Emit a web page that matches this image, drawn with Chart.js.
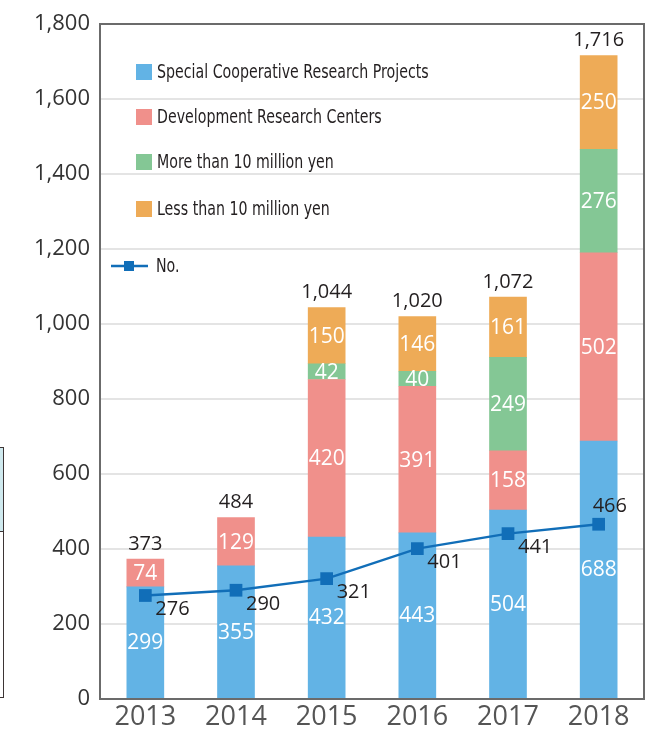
<!DOCTYPE html>
<html>
<head>
<meta charset="utf-8">
<script src="https://cdn.jsdelivr.net/npm/chart.js@4"></script>
<style>
  html, body { margin: 0; padding: 0; background: #fff; }
  #wrap { position: relative; width: 665px; height: 730px; overflow: hidden; }
  #sidebox {
    position: absolute; left: -20px; top: 447px; width: 22px; height: 249px;
    border: 1.5px solid #3d3535; background: #fff;
  }
  #sidebox div { height: 83px; background: #cfe9ee; border-bottom: 1.5px solid #3d3535; }
</style>
</head>
<body>
<div id="wrap">
  <canvas id="grantChart" width="665" height="730"></canvas>
  <div id="sidebox"><div></div></div>
</div>
<script>
// data
const years = ['2013', '2014', '2015', '2016', '2017', '2018'];
const specialProjects = [299, 355, 432, 443, 504, 688];
const devCenters = [74, 129, 420, 391, 158, 502];
const overTenMillion = [null, null, 42, 40, 249, 276];
const underTenMillion = [null, null, 150, 146, 161, 250];
const numberOfCases = [276, 290, 321, 401, 441, 466];
const yTickValues = [0, 200, 400, 600, 800, 1000, 1200, 1400, 1600, 1800];

const numFont = "'Open Sans', 'Noto Sans', sans-serif";
const legendFont = "'Liberation Sans Narrow', 'DejaVu Sans Condensed', 'Roboto', sans-serif";

// squeeze a string horizontally, the legend font in the original is condensed
function narrowText(ctx, text, x, y, squeeze) {
    ctx.save();
    ctx.translate(x, y);
    ctx.scale(squeeze, 1);
    ctx.fillText(text, 0, 0);
    ctx.restore();
}

// labels inside bars, totals on top, numbers beside the line, legend, frame
const labelPlugin = {
    id: 'labelPlugin',
    afterDatasetsDraw(chart) {
        const ctx = chart.ctx;
        const ds = chart.data.datasets;
        ctx.save();
        ctx.textAlign = 'center';
        ctx.textBaseline = 'middle';

        // values inside the stacked segments
        ctx.font = '21px ' + numFont;
        ctx.fillStyle = '#ffffff';
        for (let d = 0; d < 4; d++) {
            const meta = chart.getDatasetMeta(d);
            meta.data.forEach((bar, i) => {
                const v = ds[d].data[i];
                if (v == null) return;
                ctx.fillText(v, bar.x, (bar.y + bar.base) / 2 + 1);
            });
        }

        // totals above the bars
        ctx.font = '20px ' + numFont;
        ctx.fillStyle = '#231f20';
        years.forEach((y, i) => {
            let total = 0, topY = Infinity, x = 0;
            for (let d = 0; d < 4; d++) {
                const v = ds[d].data[i];
                if (v == null) continue;
                total += v;
                const el = chart.getDatasetMeta(d).data[i];
                topY = Math.min(topY, el.y);
                x = el.x;
            }
            ctx.fillText(total.toLocaleString('en-US'), x, topY - 15);
        });

        // line values
        const lineMeta = chart.getDatasetMeta(4);
        ctx.textAlign = 'left';
        lineMeta.data.forEach((pt, i) => {
            const last = i === lineMeta.data.length - 1;
            ctx.fillText(numberOfCases[i], pt.x + (last ? -6 : 10), pt.y + (last ? -18 : 14));
        });
        ctx.restore();
    },
    afterDraw(chart) {
        const ctx = chart.ctx;
        const a = chart.chartArea;
        const ds = chart.data.datasets;
        ctx.save();

        // legend
        ctx.font = '19px ' + legendFont;
        ctx.textBaseline = 'middle';
        ctx.textAlign = 'left';
        const rowY = [72, 117, 162, 209];
        for (let d = 0; d < 4; d++) {
            ctx.fillStyle = ds[d].backgroundColor;
            ctx.fillRect(136, rowY[d] - 8, 16, 16);
            ctx.fillStyle = '#231f20';
            narrowText(ctx, ds[d].label, 157, rowY[d] + 1, 0.83);
        }
        ctx.strokeStyle = ds[4].borderColor;
        ctx.lineWidth = 2.5;
        ctx.beginPath();
        ctx.moveTo(111, 266);
        ctx.lineTo(148, 266);
        ctx.stroke();
        ctx.fillStyle = ds[4].borderColor;
        ctx.fillRect(124, 261, 10, 10);
        ctx.fillStyle = '#231f20';
        narrowText(ctx, ds[4].label, 156, 267, 0.83);

        // plot frame
        ctx.strokeStyle = '#6b6b6b';
        ctx.lineWidth = 2;
        ctx.strokeRect(a.left, a.top, a.right - a.left, a.bottom - a.top);
        ctx.restore();
    }
};

new Chart(document.getElementById('grantChart'), {
    type: 'bar',
    data: {
        labels: years,
        datasets: [
            { label: 'Special Cooperative Research Projects', data: specialProjects, backgroundColor: '#62b3e5', order: 1 },
            { label: 'Development Research Centers', data: devCenters, backgroundColor: '#f0908b', order: 1 },
            { label: 'More than 10 million yen', data: overTenMillion, backgroundColor: '#84c795', order: 1 },
            { label: 'Less than 10 million yen', data: underTenMillion, backgroundColor: '#eeab57', order: 1 },
            {
                type: 'line',
                label: 'No.',
                data: numberOfCases,
                stack: 'cases',
                borderColor: '#116eb8',
                backgroundColor: '#116eb8',
                borderWidth: 2.5,
                tension: 0,
                pointStyle: 'rect',
                pointRadius: 9,
                pointHoverRadius: 9,
                pointBorderWidth: 0,
                order: 0
            }
        ]
    },
    options: {
        responsive: false,
        animation: false,
        layout: { padding: { top: 24, right: 21, left: 0, bottom: 0 } },
        datasets: {
            bar: { barThickness: 37, borderWidth: 0 }
        },
        plugins: {
            legend: { display: false },
            tooltip: { enabled: false }
        },
        scales: {
            x: {
                stacked: true,
                grid: { display: false, drawTicks: false },
                border: { display: false },
                ticks: { color: '#555555', font: { family: numFont, size: 27 }, padding: 2 },
                afterFit: (s) => { s.height = 31; }
            },
            y: {
                stacked: true,
                min: 0,
                max: 1800,
                afterBuildTicks: (s) => { s.ticks = yTickValues.map(v => ({ value: v })); },
                grid: { color: '#e4e4e4', lineWidth: 2, drawTicks: false },
                border: { display: false },
                ticks: {
                    color: '#333333',
                    font: { family: numFont, size: 22 },
                    padding: 10,
                    callback: (v) => v.toLocaleString('en-US')
                },
                afterFit: (s) => { s.width = 100; }
            }
        }
    },
    plugins: [labelPlugin]
});
</script>
</body>
</html>
